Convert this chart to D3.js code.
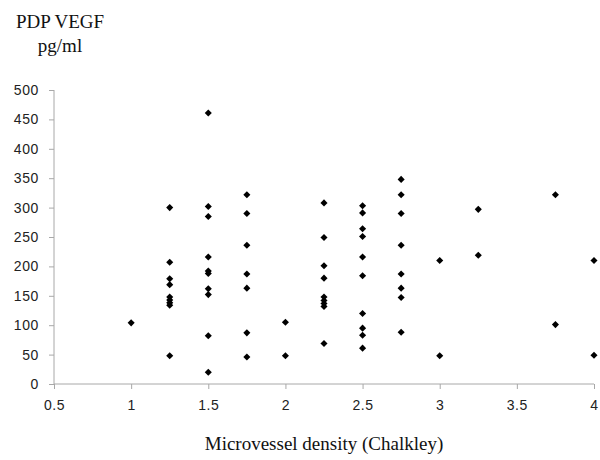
<!DOCTYPE html>
<html>
<head>
<meta charset="utf-8">
<script src="https://cdn.jsdelivr.net/npm/d3@7"></script>
<style>
  html, body { margin: 0; padding: 0; background: #fff; }
  svg { display: block; }
</style>
</head>
<body>
<div id="chart"></div>
<script>
// ---- Data ----
const densities = [1, 1.25, 1.5, 1.75, 2, 2.25, 2.5, 2.75, 3, 3.25, 3.75, 4];
const vegfValues = [
  [104],
  [300, 207, 179, 169, 148, 143, 138, 134, 48],
  [461, 302, 285, 216, 192, 188, 162, 152, 82, 20],
  [322, 290, 236, 187, 163, 87, 46],
  [105, 48],
  [308, 249, 201, 180, 148, 142, 137, 132, 69],
  [303, 291, 264, 251, 216, 184, 120, 95, 83, 61],
  [348, 322, 290, 236, 187, 163, 147, 88],
  [210, 48],
  [297, 219],
  [322, 101],
  [210, 49]
];
const xTicks = [0.5, 1, 1.5, 2, 2.5, 3, 3.5, 4];
const yTicks = [0, 50, 100, 150, 200, 250, 300, 350, 400, 450, 500];
const yTitleLines = ["PDP VEGF", "pg/ml"];
const xTitle = "Microvessel density (Chalkley)";

// ---- Layout ----
const W = 600, H = 460;
const margin = { left: 54, right: 6, top: 90, bottom: 76 };

const svg = d3.select("#chart").append("svg")
  .attr("width", W).attr("height", H);

const x = d3.scaleLinear().domain([0.5, 4]).range([margin.left, W - margin.right]);
const y = d3.scaleLinear().domain([0, 500]).range([H - margin.bottom, margin.top]);

const points = [];
densities.forEach((d, i) => vegfValues[i].forEach(v => points.push({ x: d, y: v })));

// Axes
const xAxis = d3.axisBottom(x).tickValues(xTicks).tickSize(5).tickPadding(11)
  .tickFormat(d3.format(""));
const yAxis = d3.axisLeft(y).tickValues(yTicks).tickSize(5).tickPadding(10);

const gx = svg.append("g").attr("transform", `translate(0,${y(0)})`).call(xAxis);
const gy = svg.append("g").attr("transform", `translate(${x(0.5)},0)`).call(yAxis);

[gx, gy].forEach(g => {
  g.select(".domain").attr("stroke", "#a8a8a8").attr("stroke-width", 1);
  g.selectAll(".tick line").attr("stroke", "#a8a8a8");
  g.selectAll(".tick text")
    .attr("fill", "#222")
    .style("font-family", "'Liberation Sans', Arial, sans-serif")
    .style("font-size", "14px")
    .style("letter-spacing", "0.6px");
});
gx.select(".domain").attr("d", `M${x(0.5)},0H${x(4)}`);
gy.select(".domain").attr("d", `M0,${y(500)}V${y(0)}`);

// Points
svg.append("g").selectAll("path").data(points).join("path")
  .attr("d", d3.symbol(d3.symbolSquare, 25))
  .attr("transform", d => `translate(${x(d.x)},${y(d.y)}) rotate(45)`)
  .attr("fill", "#000");

// Titles
const serif = "'Liberation Serif', 'Times New Roman', serif";
svg.append("text").attr("x", 60).attr("y", 28)
  .attr("text-anchor", "middle").style("font-family", serif).style("font-size", "19px")
  .attr("fill", "#111").text(yTitleLines[0]);
svg.append("text").attr("x", 60).attr("y", 52)
  .attr("text-anchor", "middle").style("font-family", serif).style("font-size", "19px")
  .attr("fill", "#111").text(yTitleLines[1]);
svg.append("text").attr("x", 324).attr("y", 450)
  .attr("text-anchor", "middle").style("font-family", serif).style("font-size", "19px")
  .attr("fill", "#111").text(xTitle);
</script>
</body>
</html>
